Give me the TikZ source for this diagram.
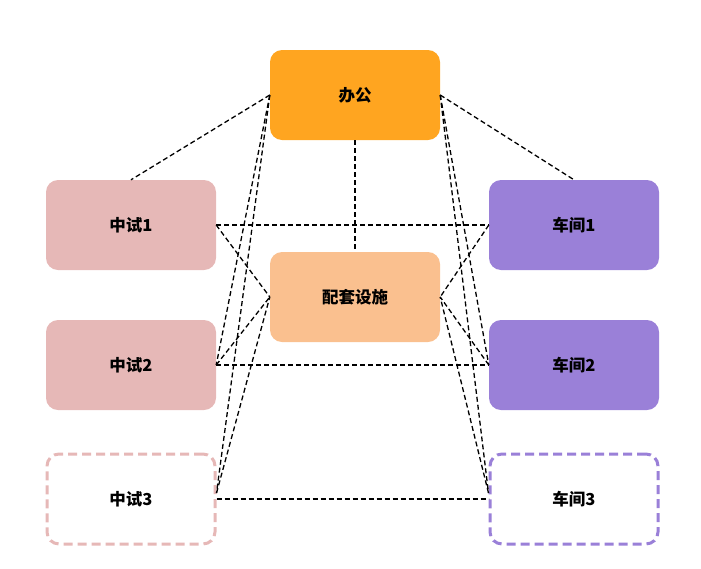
\documentclass[tikz,border=0pt]{standalone}
\usepackage{fontspec}
\newfontfamily\cjk{Noto Sans CJK SC}
\definecolor{officec}{HTML}{FFA520}
\definecolor{supportc}{HTML}{FAC08F}
\definecolor{pilotc}{HTML}{E6B8B7}
\definecolor{shopc}{HTML}{9A80D8}
\tikzset{
  box/.style={rounded corners=12pt, minimum width=170pt, minimum height=90pt, inner sep=0pt,
    font=\cjk\bfseries\fontsize{16.5pt}{19pt}\selectfont, text=black},
  filledbox/.style={box, fill=#1},
  dashbox/.style={box, draw=#1, line width=3pt, dash pattern=on 9pt off 5pt, fill=white},
  link/.style={draw=black, line width=1.3pt, dash pattern=on 5pt off 3pt},
}
\begin{document}
\begin{tikzpicture}[x=1pt,y=-1pt]
\useasboundingbox (0,0) rectangle (701,568);
\node[filledbox=officec] (office) at (355,95) {办公};
\node[filledbox=supportc] (support) at (355,297) {配套设施};
\node[filledbox=pilotc] (p1) at (131,225) {中试1};
\node[filledbox=pilotc] (p2) at (131,365) {中试2};
\node[dashbox=pilotc, minimum width=168pt, minimum height=90pt] (p3) at (131,499) {中试3};
\node[filledbox=shopc] (s1) at (574,225) {车间1};
\node[filledbox=shopc] (s2) at (574,365) {车间2};
\node[dashbox=shopc, minimum width=168pt, minimum height=90pt] (s3) at (574,499) {车间3};
\coordinate (p3in) at ([yshift=6pt]p3.east);
\coordinate (s3in) at ([yshift=6pt]s3.west);
% office links
\draw[link] (office.west) -- (p1.north);
\draw[link] (office.east) -- (s1.north);
\draw[link] (office.south) -- (support.north);
\draw[link] (office.west) -- (p2.east);
\draw[link] (office.west) -- (p3in);
\draw[link] (office.east) -- (s2.west);
\draw[link] (office.east) -- (s3in);
% horizontal links
\draw[link] (p1.east) -- (s1.west);
\draw[link] (p2.east) -- (s2.west);
\draw[link] (p3.east) -- (s3.west);
% support links
\draw[link] (p1.east) -- (support.west);
\draw[link] (p2.east) -- (support.west);
\draw[link] (p3in) -- (support.west);
\draw[link] (s1.west) -- (support.east);
\draw[link] (s2.west) -- (support.east);
\draw[link] (s3in) -- (support.east);
\end{tikzpicture}
\end{document}
